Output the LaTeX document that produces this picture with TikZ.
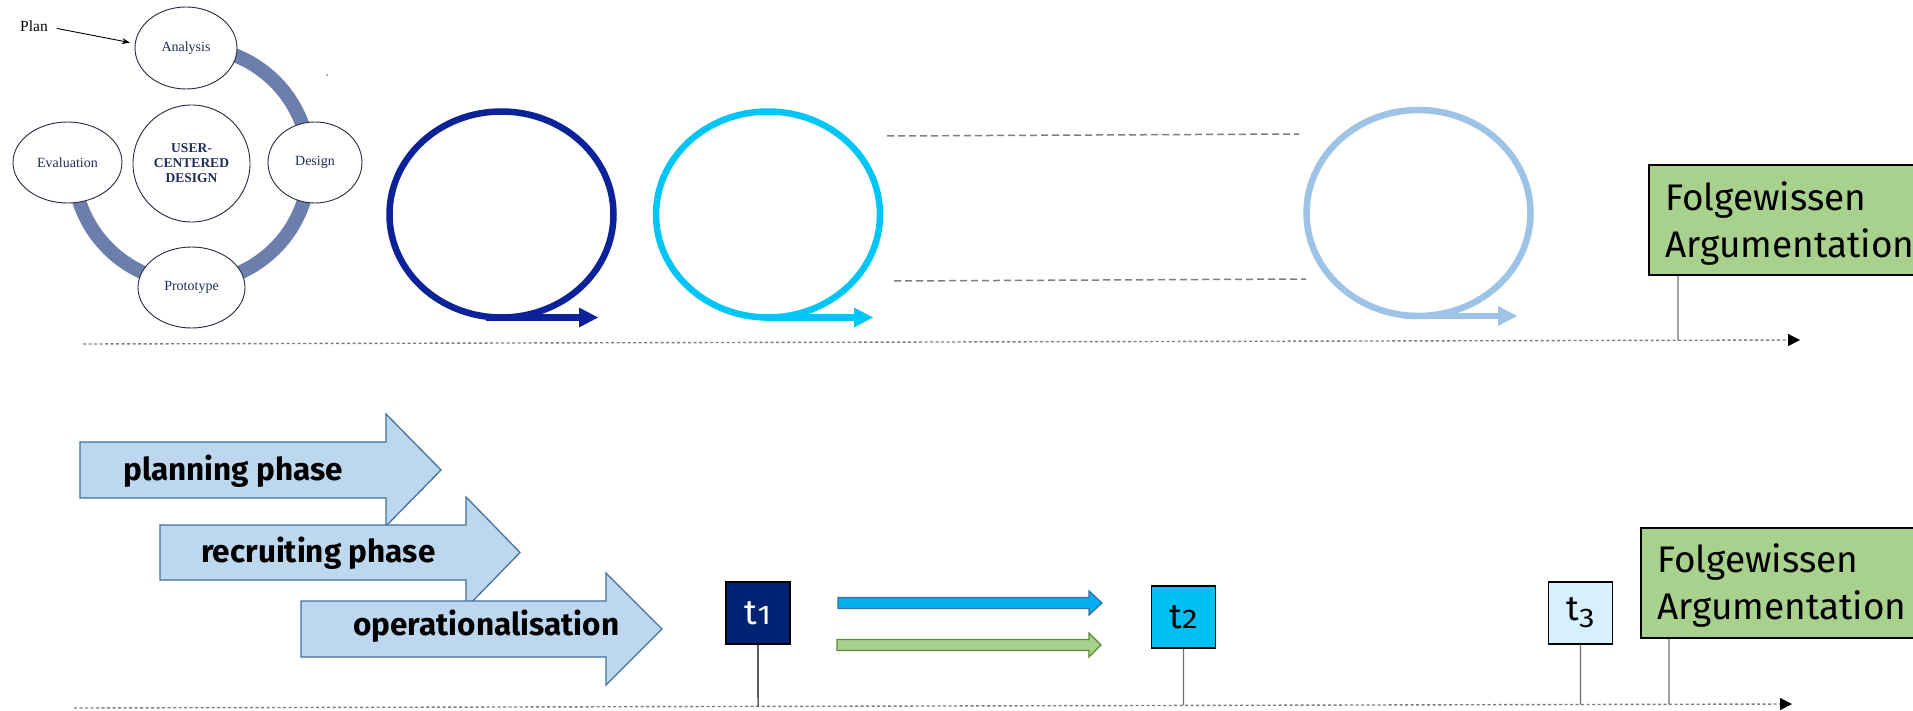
\documentclass[tikz,border=0pt]{standalone}
\usepackage{fontspec}
\usepackage{graphicx}
\setmainfont{Fira Sans}
\newfontfamily\timesf{Liberation Serif}
\usetikzlibrary{shapes.geometric,arrows.meta,calc}
\newcommand\olddigit[2][0pt]{\raisebox{#1}{\scalebox{1.15}[1]{\fontsize{27}{30}\selectfont #2}}}
\definecolor{ringcol}{HTML}{6B7EAC}
\definecolor{ucdline}{HTML}{222B40}
\definecolor{ucdtext}{HTML}{1F2D58}
\definecolor{darkloop}{HTML}{0B2299}
\definecolor{cyanloop}{HTML}{00C5F7}
\definecolor{lightloop}{HTML}{9DC3E6}
\definecolor{phasefill}{HTML}{BDD7EE}
\definecolor{phaseline}{HTML}{41719C}
\definecolor{tonefill}{HTML}{002272}
\definecolor{ttwofill}{HTML}{00C0F2}
\definecolor{tthreefill}{HTML}{D6F1FC}
\definecolor{greenfill}{HTML}{A9D18E}
\definecolor{bluearrfill}{HTML}{00B0F0}
\definecolor{bluearrline}{HTML}{3E6FA0}
\definecolor{greenarrline}{HTML}{5A8A3A}
\definecolor{axisgray}{HTML}{7F7F7F}
\definecolor{leadergray}{HTML}{6F6F6F}
\tikzset{
  ucdell/.style={ellipse, draw=ucdline, line width=0.9pt, fill=white, inner sep=0pt,
    text=ucdtext, font=\timesf\fontsize{14}{15}\selectfont},
  ring/.style={draw=ringcol, line width=14pt},
  loopline/.style={line width=6.5pt},
  phasearrow/.style={fill=phasefill, draw=phaseline, line width=1.3pt, line join=miter},
  phasetext/.style={anchor=base west, inner sep=0pt, font=\bfseries\fontsize{31.5}{36}\selectfont},
  gapline/.style={draw=axisgray, line width=1.5pt, dash pattern=on 7pt off 4pt},
  timeaxis/.style={draw=axisgray, line width=1.4pt, dash pattern=on 3pt off 2.5pt,
    -{Triangle[length=12pt,width=12pt,color=black]}},
  leader/.style={draw=leadergray, line width=1.2pt},
  tbox/.style={draw=black, line width=1.8pt, minimum width=64pt, minimum height=62pt,
    inner sep=0pt, font=\fontsize{35}{40}\selectfont},
  gbox/.style={draw=black, line width=1.8pt, fill=greenfill, anchor=north west,
    minimum width=300pt, minimum height=110pt, inner sep=0pt},
  gtext/.style={anchor=north west, inner sep=0pt, align=left, font=\fontsize{37}{47}\selectfont},
  smallarrow/.style={line width=1.3pt, line join=miter}
}
\begin{document}
\begin{tikzpicture}[x=1pt,y=-1pt]
\clip (0,0) rectangle (1913,711);
\fill[white] (0,0) rectangle (1913,711);

% ---------- user-centered design cycle ----------
\draw[ring] plot[domain=-90:180,samples=90,smooth] ({191.5+118*cos(\x)},{165+118*sin(\x)});
\node[ucdell, minimum width=102pt, minimum height=82pt] (analysis) at (186,48) {Analysis};
\node[ucdell, minimum width=94pt, minimum height=81pt] (design) at (315,162.5) {Design};
\node[ucdell, minimum width=109pt, minimum height=81pt] (evaluation) at (67.5,162.5) {Evaluation};
\node[ucdell, minimum width=107pt, minimum height=81pt] (prototype) at (191.5,287.5) {Prototype};
\node[ucdell, circle, minimum size=117pt, align=center,
      font=\timesf\bfseries\fontsize{13.5}{15}\selectfont] (ucd) at (191.5,163.5) {USER-\\CENTERED\\DESIGN};
\node[anchor=base west, inner sep=0pt, text=black, font=\timesf\fontsize{15.5}{17}\selectfont] (plan) at (20,32) {Plan};
\draw[line width=0.9pt, -{Stealth[length=8pt,width=6pt]}, shorten <=9pt, shorten >=5pt] (plan.east) -- (analysis.175);
\fill[ringcol!80] (327,75) circle[radius=1.1pt];

% ---------- loops ----------
\draw[loopline, draw=darkloop] (501.5,214.5) ellipse[x radius=112pt, y radius=103pt];
\draw[loopline, draw=darkloop] (486,317.5) -- (582,317.5);
\fill[darkloop] (579,307.5) -- (598,317.5) -- (579,327.5) -- cycle;

\draw[loopline, draw=cyanloop] (768,214.5) ellipse[x radius=112pt, y radius=103pt];
\draw[loopline, draw=cyanloop] (765,317.5) -- (857,317.5);
\fill[cyanloop] (854,307.5) -- (873,317.5) -- (854,327.5) -- cycle;

\draw[loopline, draw=lightloop] (1418.5,213) ellipse[x radius=112pt, y radius=103pt];
\draw[loopline, draw=lightloop] (1404,316) -- (1501,316);
\fill[lightloop] (1498,306) -- (1517,316) -- (1498,326) -- cycle;

\coordinate (ga1) at (887,136); \coordinate (ga2) at (1299,134);
\coordinate (gb1s) at (894,281); \coordinate (gb2s) at (1306,279);
\draw[gapline] (ga1) -- (ga2);
\draw[gapline] (gb1s) -- (gb2s);

% ---------- top time axis ----------
\coordinate (at1) at (83,344); \coordinate (at2) at (1800,340);
\draw[timeaxis] (at1) -- (at2);
\node[gbox] (gb1) at (1648,164) {};
\node[gtext] (gb1t) at (1665,181) {Folgewissen\\Argumentation};
\coordinate (gb1foot) at ($(gb1.south west)+(30,0)$);
\draw[leader] (gb1foot) -- ($(at1)!(gb1foot)!(at2)$);

% ---------- phase arrows ----------
\draw[phasearrow] (80,442) -- (386,442) -- (386,414) -- (441,470) -- (386,526) -- (386,498) -- (80,498) -- cycle;
\node[phasetext] (planT) at (123,480) {planning phase};
\draw[phasearrow] (160,525) -- (466,525) -- (466,497) -- (520,552.5) -- (466,608) -- (466,580) -- (160,580) -- cycle;
\node[phasetext] (recrT) at (201,562) {recruiting phase};
\draw[phasearrow] (301,601) -- (606,601) -- (606,573) -- (662,629) -- (606,685) -- (606,657) -- (301,657) -- cycle;
\node[phasetext] (operT) at (353,635) {operationalisation};

% ---------- small arrows ----------
\draw[smallarrow, fill=bluearrfill, draw=bluearrline] (838,597.5) -- (1089,597.5) -- (1089,591) -- (1102,603) -- (1089,615) -- (1089,608.5) -- (838,608.5) -- cycle;
\draw[smallarrow, fill=greenfill, draw=greenarrline] (837,639.5) -- (1089,639.5) -- (1089,633) -- (1101,645) -- (1089,657) -- (1089,650.5) -- (837,650.5) -- cycle;

% ---------- bottom time axis ----------
\coordinate (ab1) at (74,708); \coordinate (ab2) at (1792,704);
\draw[timeaxis] (ab1) -- (ab2);
\node[tbox, fill=tonefill, text=white] (t1) at (758,613) {t\olddigit{1}};
\node[tbox, fill=ttwofill] (t2) at (1183.5,617) {t\olddigit{2}};
\node[tbox, fill=tthreefill] (t3) at (1580.5,613) {t\olddigit[-7pt]{3}};
\draw[line width=1.2pt, draw=black] (t1.south) -- ($(ab1)!(t1.south)!(ab2)$);
\draw[leader] (t2.south) -- ($(ab1)!(t2.south)!(ab2)$);
\draw[leader] (t3.south) -- ($(ab1)!(t3.south)!(ab2)$);
\node[gbox] (gb2) at (1640,527) {};
\node[gtext] (gb2t) at (1657,543) {Folgewissen\\Argumentation};
\coordinate (gb2foot) at ($(gb2.south west)+(29,0)$);
\draw[leader] (gb2foot) -- ($(ab1)!(gb2foot)!(ab2)$);
\end{tikzpicture}
\end{document}
